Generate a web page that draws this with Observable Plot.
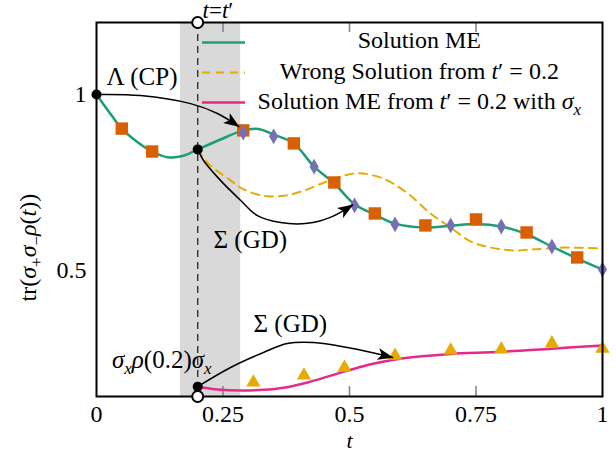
<!DOCTYPE html>
<html><head><meta charset="utf-8">
<script src="https://cdn.jsdelivr.net/npm/d3@7"></script>
<script src="https://cdn.jsdelivr.net/npm/@observablehq/plot@0.6"></script>
<style>body{margin:0;background:#fff}</style>
</head><body><div id="chart"></div>
<script>
// ---- data ----
const tME = [0, 0.03, 0.05, 0.08, 0.11, 0.14, 0.17, 0.2, 0.25, 0.29, 0.32, 0.35, 0.39, 0.43, 0.47, 0.51, 0.55, 0.59, 0.65, 0.70, 0.75, 0.80, 0.85, 0.90, 0.95, 1.0];
const vME = [1.0, 0.94, 0.903, 0.866, 0.838, 0.822, 0.825, 0.844, 0.875, 0.898, 0.902, 0.886, 0.861, 0.795, 0.747, 0.688, 0.659, 0.633, 0.622, 0.627, 0.632, 0.625, 0.603, 0.568, 0.534, 0.503];
const tSq = [0.05, 0.11, 0.29, 0.39, 0.47, 0.55, 0.65, 0.75, 0.85, 0.95];
const vSq = [0.903, 0.838, 0.898, 0.861, 0.75, 0.662, 0.628, 0.645, 0.608, 0.537];
const tDi = [0.29, 0.35, 0.43, 0.51, 0.59, 0.70, 0.80, 0.90, 1.0];
const vDi = [0.892, 0.881, 0.795, 0.685, 0.631, 0.628, 0.625, 0.568, 0.503];
const tWrong = [0.2, 0.22, 0.265, 0.29, 0.33, 0.37, 0.41, 0.45, 0.49, 0.52, 0.567, 0.615, 0.66, 0.70, 0.74, 0.78, 0.824, 0.864, 0.923, 1.0];
const vWrong = [0.844, 0.805, 0.756, 0.731, 0.712, 0.712, 0.727, 0.75, 0.77, 0.776, 0.761, 0.719, 0.662, 0.622, 0.582, 0.565, 0.557, 0.56, 0.565, 0.5625];
const tSx = [0.2, 0.24, 0.285, 0.33, 0.37, 0.417, 0.46, 0.5, 0.54, 0.585, 0.65, 0.7, 0.8, 0.9, 1.0];
const vSx = [0.17, 0.162, 0.159, 0.161, 0.167, 0.182, 0.2, 0.217, 0.233, 0.246, 0.257, 0.263, 0.269, 0.278, 0.287];
const tTr = [0.31, 0.41, 0.49, 0.59, 0.70, 0.80, 0.90, 1.0];
const vTr = [0.182, 0.202, 0.224, 0.258, 0.273, 0.276, 0.293, 0.278];
const tPrime = 0.2;
const band = [0.166, 0.285];
const blackDotsT = [0, 0.2, 0.2];
const blackDotsV = [1.0, 0.844, 0.17];
const arrowCP_t = [0, 0.087, 0.186, 0.239, 0.281];
const arrowCP_v = [1.0, 0.997, 0.974, 0.946, 0.909];
const arrowGD1_t = [0.2, 0.2115, 0.245, 0.285, 0.318, 0.364, 0.417, 0.462, 0.506];
const arrowGD1_v = [0.844, 0.8125, 0.756, 0.699, 0.656, 0.636, 0.634, 0.651, 0.686];
const arrowGD2_t = [0.2, 0.265, 0.33, 0.377, 0.429, 0.496, 0.585];
const arrowGD2_v = [0.17, 0.2244, 0.267, 0.2926, 0.2955, 0.281, 0.253];
const xTicks = [0, 0.25, 0.5, 0.75, 1];
const xTickLabels = ["0", "0.25", "0.5", "0.75", "1"];
const yTicks = [0.5, 1];
const yTickLabels = ["0.5", "1"];
const legendLabels = ["Solution ME", "Wrong Solution from t′ = 0.2", "Solution ME from t′ = 0.2 with σx"];
const annotLabels = ["Λ (CP)", "Σ (GD)", "Σ (GD)", "σxρ(0.2)σx", "t=t′"];
const xLabel = "t";
const yLabel = "tr(σ+σ−ρ(t))";

// ---- layout / style ----
const FF = "Liberation Serif";
const yDomain = [0.142, 1.2045];
const C = {green: "#1b9e77", yellow: "#e6ab02", pink: "#e7298a", orange: "#d95f02", purple: "#7570b3"};
const annotPos = [
  {t: 0.0198, v: 1.0256, a: "start", fs: 25},
  {t: 0.304, v: 0.5625, a: "middle", fs: 25},
  {t: 0.383, v: 0.326, a: "middle", fs: 25},
  {t: 0.129, v: 0.2216, a: "middle", fs: 25},
  {t: 0.2095, v: 1.216, a: "start", fs: 23}
];
const legendLineX = [0.2095, 0.2945];
const legendLineV = [1.1477, 1.0625, 0.977];
const legendTextT = 0.638;
const legendTextV = [1.1307, 1.0426, 0.9574];

const zip = (ts, vs) => ts.map((t, i) => ({t, v: vs[i]}));
const me = zip(tME, vME), sq = zip(tSq, vSq), di = zip(tDi, vDi);
const wrong = zip(tWrong, vWrong), sx = zip(tSx, vSx), tr = zip(tTr, vTr);
const arrows = [
  ...zip(arrowCP_t, arrowCP_v).map(d => ({...d, id: "cp"})),
  ...zip(arrowGD1_t, arrowGD1_v).map(d => ({...d, id: "gd1"})),
  ...zip(arrowGD2_t, arrowGD2_v).map(d => ({...d, id: "gd2"}))
];
const bdots = zip(blackDotsT, blackDotsV);
const annots = annotLabels.map((label, i) => ({label, ...annotPos[i]}));
const legend = legendLabels.map((label, i) => ({label, v: legendTextV[i]}));

const plot = Plot.plot({
  width: 616, height: 453,
  marginLeft: 96, marginRight: 14, marginTop: 22, marginBottom: 57,
  x: {domain: [0, 1], label: null},
  y: {domain: yDomain, label: null},
  style: {background: "white", overflow: "visible", color: "black"},
  marks: [
    Plot.rect([band], {x1: d => d[0], x2: d => d[1], y1: () => yDomain[0], y2: () => yDomain[1], fill: "#d9d9d9"}),
    Plot.ruleX([tPrime], {x: d => d, stroke: "#333", strokeWidth: 1.4, strokeDasharray: "7,5"}),
    Plot.tickX(xTicks.slice(1, 4), {x: d => d, insetTop: 364, stroke: "#888", strokeWidth: 1.6}),
    Plot.tickX(xTicks.slice(1, 4), {x: d => d, insetBottom: 364, stroke: "#888", strokeWidth: 1.6}),
    Plot.line(wrong, {x: "t", y: "v", stroke: C.yellow, strokeWidth: 2, strokeDasharray: "8,6", curve: "catmull-rom"}),
    Plot.line(me, {x: "t", y: "v", stroke: C.green, strokeWidth: 2.5, curve: "catmull-rom"}),
    Plot.line(sx, {x: "t", y: "v", stroke: C.pink, strokeWidth: 2.5, curve: "catmull-rom"}),
    Plot.dot(sq, {x: "t", y: "v", symbol: "square", r: 7, fill: C.orange}),
    Plot.dot(di, {x: "t", y: "v", symbol: "diamond", r: 4.8, fill: C.purple}),
    Plot.dot(tr, {x: "t", y: "v", symbol: "triangle", r: 5.3, fill: C.yellow}),
    Plot.frame({stroke: "black", strokeWidth: 2}),
    Plot.line(arrows, {x: "t", y: "v", z: "id", stroke: "black", strokeWidth: 1.5, curve: "catmull-rom", ariaDescription: "arrow"}),
    Plot.dot(bdots, {x: "t", y: "v", r: 5, fill: "black"}),
    Plot.dot([tPrime], {x: d => d, frameAnchor: "top", r: 5.5, fill: "white", stroke: "black", strokeWidth: 2}),
    Plot.dot([tPrime], {x: d => d, frameAnchor: "bottom", r: 5.5, fill: "white", stroke: "black", strokeWidth: 2}),
    // legend
    Plot.ruleY([legendLineV[0]], {y: d => d, x1: legendLineX[0], x2: legendLineX[1], stroke: C.green, strokeWidth: 2.5}),
    Plot.ruleY([legendLineV[1]], {y: d => d, x1: legendLineX[0], x2: legendLineX[1], stroke: C.yellow, strokeWidth: 2, strokeDasharray: "8,6"}),
    Plot.ruleY([legendLineV[2]], {y: d => d, x1: legendLineX[0], x2: legendLineX[1], stroke: C.pink, strokeWidth: 2.5}),
    Plot.text(legend, {x: () => legendTextT, y: "v", text: "label", textAnchor: "middle", lineAnchor: "bottom", fontSize: 24, fontFamily: FF}),
    // annotations
    ...annots.map(d => Plot.text([d], {x: "t", y: "v", text: "label", textAnchor: d.a, lineAnchor: "bottom", fontSize: d.fs, fontFamily: FF})),
    // axes
    Plot.axisX({ticks: xTicks, tickFormat: d => xTickLabels[xTicks.indexOf(d)], tickSize: 0, tickPadding: 8, fontSize: 24, fontFamily: FF, label: null}),
    Plot.axisY({ticks: yTicks, tickFormat: d => yTickLabels[yTicks.indexOf(d)], tickSize: 0, tickPadding: 10, fontSize: 24, fontFamily: FF, label: null}),
    Plot.text([xLabel], {x: () => 0.5, frameAnchor: "bottom", dy: 51, text: d => d, lineAnchor: "bottom", fontSize: 22, fontFamily: FF}),
    Plot.text([yLabel], {x: () => 0, y: () => 0.565, dx: -68, rotate: -90, text: d => d, textAnchor: "middle", lineAnchor: "middle", fontSize: 24, fontFamily: FF})
  ]
});

// arrowheads
const ns = "http://www.w3.org/2000/svg";
const defs = document.createElementNS(ns, "defs");
defs.innerHTML = '<marker id="ah" viewBox="0 -6 16 12" refX="15" refY="0" markerWidth="16" markerHeight="12" markerUnits="userSpaceOnUse" orient="auto"><path d="M0,-6L16,0L0,6L4,0Z" fill="black"/></marker>';
plot.insertBefore(defs, plot.firstChild);
plot.querySelectorAll('g[aria-description="arrow"] path').forEach(p => p.setAttribute("marker-end", "url(#ah)"));

// rich text (italic math, subscripts)
const it = s => `<tspan font-style="italic">${s}</tspan>`;
const sub = (s, italic) => `<tspan ${italic ? 'font-style="italic" ' : ''}font-size="17" dy="6">${s}</tspan>`;
const rich = {
  "Wrong Solution from t′ = 0.2": `Wrong Solution from ${it("t")}′ = 0.2`,
  "Solution ME from t′ = 0.2 with σx": `Solution ME from ${it("t")}′ = 0.2 with ${it("σ")}${sub("x", true)}`,
  "σxρ(0.2)σx": `${it("σ")}${sub("x", true)}<tspan font-style="italic" dy="-6">ρ</tspan>(0.2)${it("σ")}${sub("x", true)}`,
  "t=t′": `${it("t")}=${it("t")}′`,
  "t": it("t"),
  "tr(σ+σ−ρ(t))": `tr(${it("σ")}${sub("+")}<tspan font-style="italic" dy="-6">σ</tspan>${sub("−")}<tspan font-style="italic" dy="-6">ρ</tspan>(${it("t")}))`
};
plot.querySelectorAll("text").forEach(t => {
  const k = t.textContent;
  if (rich[k] !== undefined && t.children.length === 0) t.innerHTML = rich[k];
});

document.getElementById("chart").appendChild(plot);
</script>
</body></html>
